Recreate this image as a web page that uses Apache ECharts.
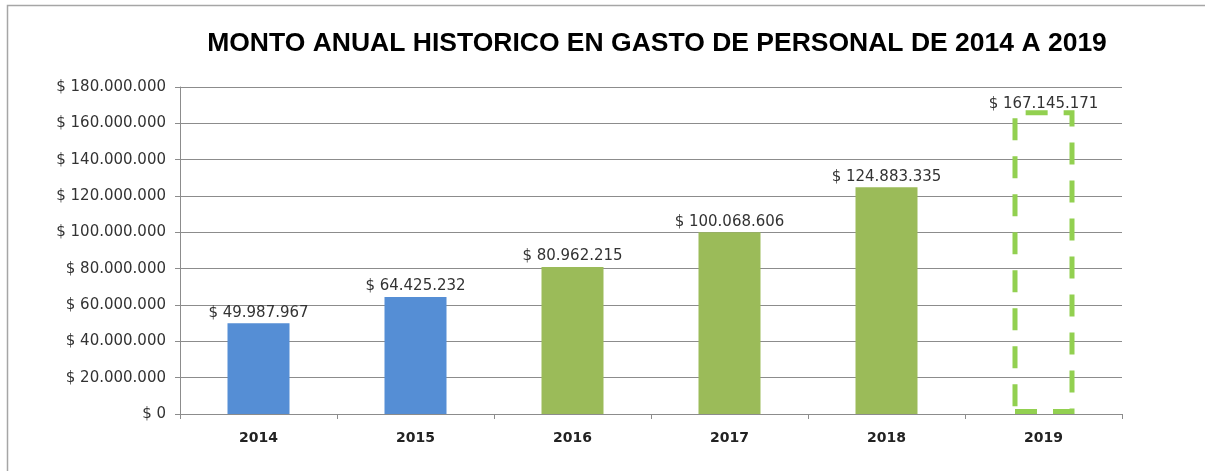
<!DOCTYPE html>
<html>
<head>
<meta charset="utf-8">
<script src="https://cdn.jsdelivr.net/npm/echarts@6/dist/echarts.min.js"></script>
<style>
  html, body { margin: 0; padding: 0; background: #fff; }
  #chart { width: 1205px; height: 471px; }
</style>
</head>
<body>
<div id="chart"></div>
<script>
// datos
const years = ['2014', '2015', '2016', '2017', '2018', '2019'];
const amounts = [49987967, 64425232, 80962215, 100068606, 124883335, 167145171];
const barColors = ['#558ed5', '#558ed5', '#9bbb59', '#9bbb59', '#9bbb59', 'none'];

// formato con punto como separador de miles
function pesos(v) {
    return '$ ' + String(Math.round(v)).replace(/\B(?=(\d{3})+(?!\d))/g, '.');
}

const chart = echarts.init(document.getElementById('chart'));

const barData = amounts.map((v, i) => {
    if (i === amounts.length - 1) {
        // 2019 es proyectado: solo borde discontinuo
        return {
            value: v,
            label: { distance: -1 },
            itemStyle: {
                color: 'rgba(0,0,0,0)',
                borderColor: '#92d050',
                borderWidth: 5,
                borderType: [22, 16]
            }
        };
    }
    return { value: v, itemStyle: { color: barColors[i] } };
});

chart.setOption({
    animation: false,
    title: {
        text: 'MONTO ANUAL HISTORICO EN GASTO DE PERSONAL DE 2014 A 2019',
        left: 652,
        textAlign: 'center',
        top: 25,
        textStyle: {
            fontFamily: 'Liberation Sans, Arial, sans-serif',
            fontWeight: 'bold',
            fontSize: 26.5,
            color: '#000'
        }
    },
    graphic: [{
        type: 'rect',
        shape: { x: 7.5, y: 5.5, width: 1220, height: 480 },
        style: { fill: 'none', stroke: '#a6a6a6', lineWidth: 1.5 },
        silent: true
    }],
    grid: { left: 180, right: 83, top: 87, bottom: 57 },
    xAxis: {
        type: 'category',
        data: years,
        axisLine: { lineStyle: { color: '#8c8c8c' } },
        axisTick: { show: true, alignWithLabel: false, length: 5, lineStyle: { color: '#8c8c8c' } },
        axisLabel: {
            margin: 17,
            fontFamily: 'DejaVu Sans, Verdana, sans-serif',
            fontWeight: 'bold',
            fontSize: 14,
            color: '#222'
        }
    },
    yAxis: {
        type: 'value',
        min: 0,
        max: 180000000,
        interval: 20000000,
        axisLine: { show: true, lineStyle: { color: '#8c8c8c' } },
        axisTick: { show: true, length: 5, lineStyle: { color: '#8c8c8c' } },
        splitLine: { lineStyle: { color: '#8c8c8c' } },
        axisLabel: {
            margin: 14,
            formatter: pesos,
            fontFamily: 'DejaVu Sans, Verdana, sans-serif',
            fontSize: 15,
            color: '#333'
        }
    },
    series: [{
        type: 'bar',
        data: barData,
        barWidth: 62,
        label: {
            show: true,
            position: 'top',
            distance: 3,
            formatter: p => pesos(p.value),
            fontFamily: 'DejaVu Sans, Verdana, sans-serif',
            fontSize: 15,
            color: '#333'
        }
    }]
});
</script>
</body>
</html>
